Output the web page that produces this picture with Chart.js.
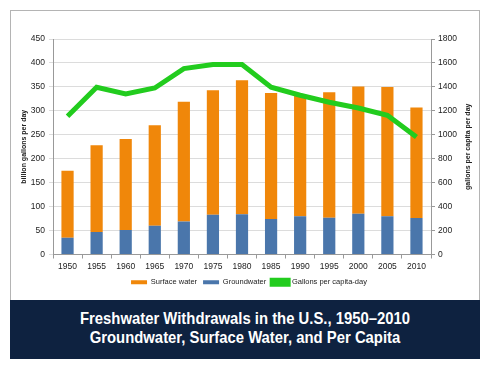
<!DOCTYPE html>
<html>
<head>
<meta charset="utf-8">
<script src="https://cdn.jsdelivr.net/npm/chart.js@4.4.0/dist/chart.umd.min.js"></script>
<style>
  html, body { margin: 0; padding: 0; background: #fff; }
  body { width: 496px; height: 371px; position: relative; overflow: hidden;
         font-family: "Liberation Sans", Arial, sans-serif; }
  #frame { position: absolute; left: 10px; top: 10px; width: 468px; height: 289px;
           border: 1px solid #b4b4b4; border-bottom: none; }
  #wrap { position: absolute; left: 11px; top: 11px; width: 467px; height: 289px; }
  #band { position: absolute; left: 10px; top: 300px; width: 470px; height: 59px;
          background: #0e2240; color: #fff; text-align: center; }
  #band div { font-weight: bold; font-size: 16.5px; line-height: 19px; white-space: nowrap;
              transform: scaleX(0.9); transform-origin: 50% 50%; }
  #band .l1 { margin-top: 9px; }
</style>
</head>
<body>
<div id="frame"></div>
<div id="wrap"><canvas id="chart"></canvas></div>
<div id="band">
  <div class="l1">Freshwater Withdrawals in the U.S., 1950–2010</div>
  <div>Groundwater, Surface Water, and Per Capita</div>
</div>
<script>
const years = ["1950", "1955", "1960", "1965", "1970", "1975", "1980", "1985", "1990", "1995", "2000", "2005", "2010"];
const groundwater = [35, 47, 51, 60, 69, 83, 84, 74, 80, 77, 85, 80, 76];
const surfaceWater = [140, 181, 190, 210, 250, 260, 280, 263, 253, 262, 266, 270, 231];
const perCapita = [1155, 1397, 1341, 1391, 1553, 1586, 1586, 1397, 1330, 1272, 1224, 1163, 982];

const leftTicks = [0, 450, 50];
const rightTicks = [0, 1800, 200];

const fontFam = '"Liberation Sans", Arial, sans-serif';
const tickFont = { family: fontFam, size: 8.5 };
const legendOrder = { "Surface water": 0, "Groundwater": 1, "Gallons per capita-day": 2 };

// right axis title reads bottom-to-top in the original, so draw it by hand
const rightTitle = {
  id: "rightTitle",
  afterDraw(chart) {
    const s = chart.scales.y1;
    const ctx = chart.ctx;
    ctx.save();
    ctx.translate(457, (s.top + s.bottom) / 2);
    ctx.rotate(-Math.PI / 2);
    ctx.font = "bold 7px " + fontFam;
    ctx.fillStyle = "#222";
    ctx.textAlign = "center";
    ctx.textBaseline = "middle";
    ctx.fillText("gallons per capita per day", 0, 0);
    ctx.restore();
  },
};

new Chart(document.getElementById("chart"), {
  type: "bar",
  plugins: [rightTitle],
  data: {
    labels: years,
    datasets: [
      { label: "Groundwater", data: groundwater, backgroundColor: "#4a76ab", yAxisID: "y", order: 1,
        barPercentage: 0.42, categoryPercentage: 1 },
      { label: "Surface water", data: surfaceWater, backgroundColor: "#f0870a", yAxisID: "y", order: 1,
        barPercentage: 0.42, categoryPercentage: 1 },
      { label: "Gallons per capita-day", type: "line", data: perCapita, borderColor: "#22cc1e",
        backgroundColor: "#22cc1e", borderWidth: 5, pointRadius: 0, tension: 0, yAxisID: "y1", order: 0 },
    ],
  },
  options: {
    responsive: true,
    maintainAspectRatio: false,
    animation: false,
    layout: { padding: { top: 28, left: 9, right: 0, bottom: 4 } },
    plugins: {
      tooltip: { enabled: false },
      legend: {
        position: "bottom",
        labels: {
          font: { family: fontFam, size: 7.5 },
          color: "#222",
          boxWidth: 16,
          boxHeight: 4,
          padding: 6,
          sort: (a, b) => legendOrder[a.text] - legendOrder[b.text],
        },
      },
    },
    scales: {
      x: {
        stacked: true,
        grid: { offset: true, drawOnChartArea: false, tickLength: 4, color: "#999" },
        border: { color: "#999" },
        ticks: { font: tickFont, color: "#222", maxRotation: 0, padding: 3 },
        afterFit: (s) => { s.height = 18; },
      },
      y: {
        stacked: true,
        position: "left",
        min: leftTicks[0],
        max: leftTicks[1],
        ticks: { stepSize: leftTicks[2], font: tickFont, color: "#222", padding: 4 },
        grid: { color: "#dcdcdc", tickLength: 4 },
        border: { color: "#999" },
        title: { display: true, text: "billion gallons per day", font: { family: fontFam, size: 7, weight: "bold" },
                 color: "#222", padding: 0 },
        afterFit: (s) => { s.width = 33; },
      },
      y1: {
        position: "right",
        min: rightTicks[0],
        max: rightTicks[1],
        ticks: { stepSize: rightTicks[2], font: tickFont, color: "#222", padding: 3,
                 callback: (v) => String(v) },
        grid: { drawOnChartArea: false, tickLength: 4, color: "#999" },
        border: { color: "#999" },
        afterFit: (s) => { s.width = 47; },
      },
    },
  },
});
</script>
</body>
</html>
